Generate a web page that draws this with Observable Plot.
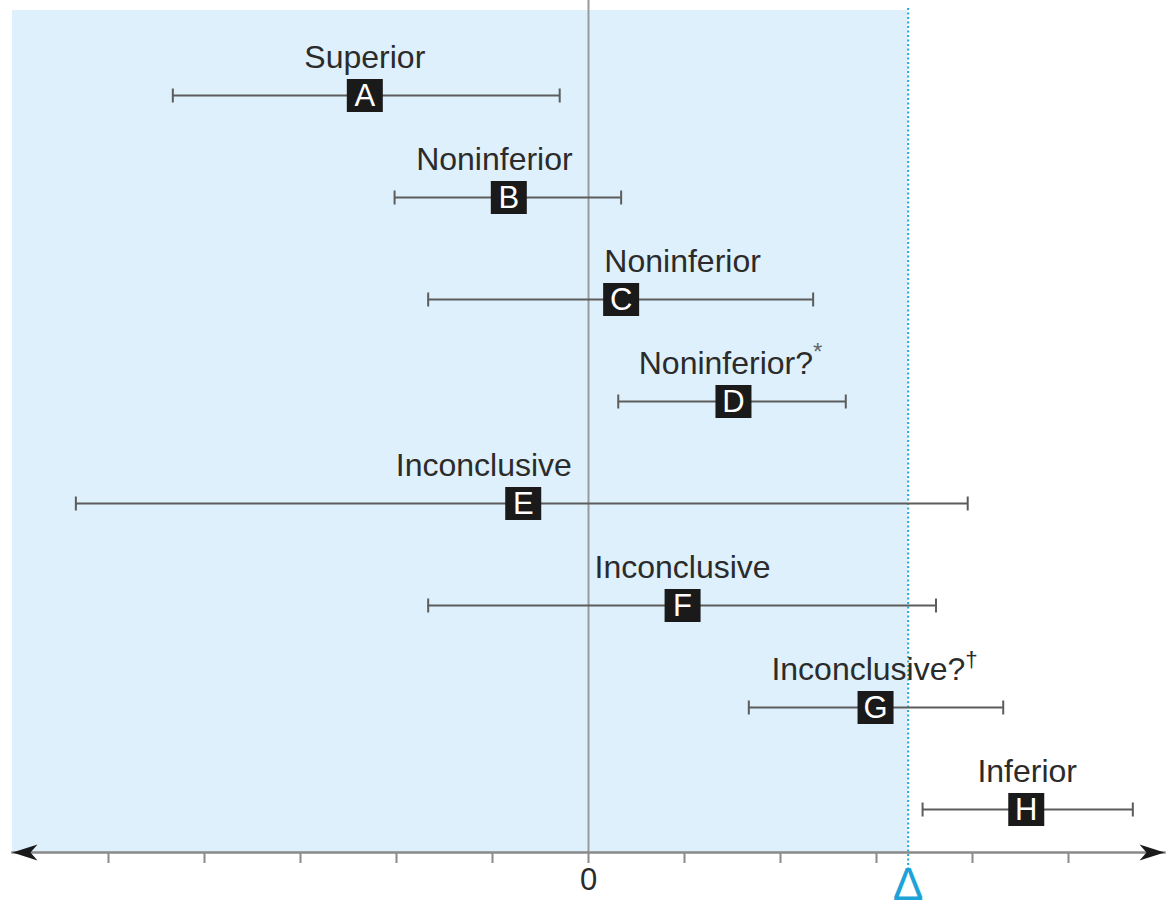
<!DOCTYPE html>
<html>
<head>
<meta charset="utf-8">
<script src="https://cdn.jsdelivr.net/npm/d3@7"></script>
<script src="https://cdn.jsdelivr.net/npm/@observablehq/plot@0.6"></script>
<style>
  html, body { margin: 0; padding: 0; background: #fff; }
  #chart svg { display: block; }
</style>
</head>
<body>
<div id="chart"></div>
<script>
// ---- data ----
const letters  = ["A", "B", "C", "D", "E", "F", "G", "H"];
const labels   = ["Superior", "Noninferior", "Noninferior", "Noninferior?", "Inconclusive", "Inconclusive", "Inconclusive?", "Inferior"];
const supMarks = ["", "", "", "*", "", "", "\u2020", ""];
const lower    = [-4.33, -2.02, -1.67, 0.31, -5.34, -1.67, 1.67, 3.48];
const estimate = [-2.33, -0.83, 0.34, 1.51, -0.68, 0.98, 2.99, 4.56];
const upper    = [-0.30, 0.34, 2.34, 2.68, 3.95, 3.62, 4.32, 5.67];
const labelX   = [-2.33, -0.98, 0.98, 1.48, -1.09, 0.98, 2.98, 4.57];
const delta    = 3.33;
const xTicks   = [-5, -4, -3, -2, -1, 0, 1, 2, 3, 4, 5];
const xDomain  = [-6, 6];

const rows = letters.map((id, i) => ({
  id, label: labels[i], sup: supMarks[i],
  lo: lower[i], est: estimate[i], hi: upper[i], lx: labelX[i]
}));
const ends = rows.flatMap(r => [{id: r.id, x: r.lo}, {id: r.id, x: r.hi}]);

// ---- custom symbols ----
const boxSymbol = {draw(ctx) { ctx.rect(-18, -16.5, 36, 33); }};
const capSymbol = {draw(ctx) { ctx.moveTo(0, -7); ctx.lineTo(0, 7); }};
const arrowSymbol = {draw(ctx) {
  ctx.moveTo(0, 0); ctx.lineTo(-25, -8); ctx.lineTo(-18, 0); ctx.lineTo(-25, 8); ctx.closePath();
}};

const font = "'Liberation Sans', Arial, Helvetica, sans-serif";
const textColor = "#2b2b2b";
const gray = "#5c5c5c";

const chart = Plot.plot({
  width: 1166,
  height: 914,
  marginTop: 10,
  marginBottom: 62,
  marginLeft: 12,
  marginRight: 2,
  style: {fontFamily: font, background: "#fff", overflow: "visible"},
  x: {domain: xDomain, axis: null},
  y: {type: "point", domain: letters, range: [93, 810], padding: 0, axis: null},
  marks: [
    Plot.rect([xDomain[0]], {x1: xDomain[0], x2: delta, fill: "#ddf0fb"}),
    Plot.ruleX([0], {stroke: "#9a9a9a", strokeWidth: 2, insetTop: -10}),
    Plot.ruleX([delta], {stroke: "#25a5d6", strokeWidth: 2, strokeDasharray: "2,2.5", insetTop: -2, insetBottom: -18}),
    Plot.ruleY(rows, {y: "id", x1: "lo", x2: "hi", stroke: gray, strokeWidth: 2}),
    Plot.dot(ends, {x: "x", y: "id", symbol: capSymbol, stroke: gray, strokeWidth: 2, fill: "none"}),
    Plot.dot(rows, {x: "est", y: "id", symbol: boxSymbol, fill: "#1a1a1a", stroke: "none"}),
    Plot.text(rows, {x: "est", y: "id", text: "id", fill: "#fff", fontSize: 31, dy: 1}),
    Plot.text(rows, {x: "lx", y: "id", text: "label", fill: textColor, fontSize: 32, lineAnchor: "bottom", dy: -28}),
    Plot.axisX({
      ticks: xTicks, tickSize: 11, stroke: "#8a8a8a", strokeWidth: 2,
      tickFormat: d => d === 0 ? "0" : "", fontSize: 31, fill: textColor, tickPadding: 4
    }),
    Plot.frame({anchor: "bottom", stroke: "#8a8a8a", strokeWidth: 2.5}),
    Plot.dot([xDomain[1]], {x: d => d, frameAnchor: "bottom", symbol: arrowSymbol, fill: "#1a1a1a", stroke: "none"}),
    Plot.dot([xDomain[0]], {x: d => d, frameAnchor: "bottom", symbol: arrowSymbol, rotate: 180, fill: "#1a1a1a", stroke: "none"}),
    Plot.text([delta], {x: d => d, text: () => "\u0394", frameAnchor: "bottom", dy: 47, fontSize: 46, fill: "#1ea3d8"})
  ]
});

// add superscript marks (* and †) to the matching labels
const supByLabel = new Map(rows.filter(r => r.sup).map(r => [r.label, r.sup]));
d3.select(chart).selectAll("text").each(function() {
  const node = d3.select(this);
  if (node.selectAll("tspan").size() > 0) return;
  const s = supByLabel.get(node.text());
  if (s) {
    node.append("tspan")
      .attr("dy", "-0.55em")
      .attr("font-size", s === "*" ? "0.75em" : "0.7em")
      .attr("fill", s === "*" ? "#666" : textColor)
      .text(s);
  }
});

document.getElementById("chart").appendChild(chart);
</script>
</body>
</html>
